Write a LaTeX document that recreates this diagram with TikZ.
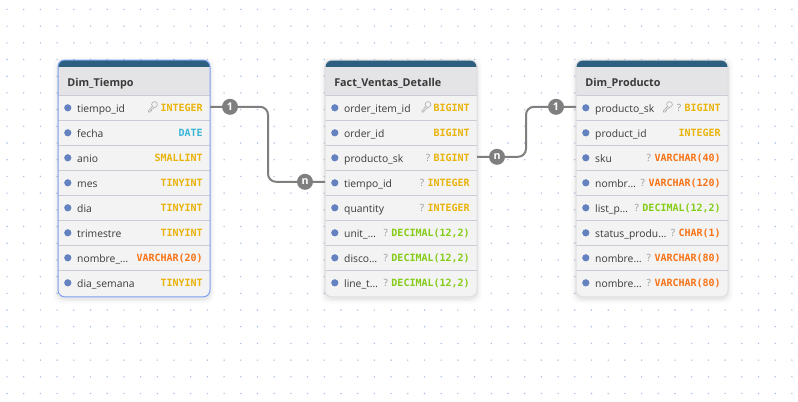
\documentclass[tikz,border=0pt]{standalone}
\usepackage{fontspec}
\setmainfont{Open Sans}
\newfontfamily\typefont{DejaVu Sans Mono}
\definecolor{cyel}{HTML}{EAB308}
\definecolor{ccya}{HTML}{38B6D8}
\definecolor{cora}{HTML}{F97316}
\definecolor{cgrn}{HTML}{84CC16}
\definecolor{cbar}{HTML}{2D5F7F}
\definecolor{chead}{HTML}{E4E4E6}
\definecolor{crow}{HTML}{F3F3F3}
\definecolor{csep}{HTML}{CBCBD6}
\definecolor{cdot}{HTML}{6482C0}
\definecolor{cgrid}{HTML}{A9C2E2}
\definecolor{ctext}{HTML}{3A3A3A}
\definecolor{cline}{HTML}{7F7F7F}
\definecolor{cborder}{HTML}{DEDEE3}
\definecolor{cselect}{HTML}{7DA0F0}
\tikzset{
  rowbox/.style={anchor=north west,minimum width=114pt,minimum height=18.75pt,inner sep=0pt,outer sep=0pt},
  rowsep/.style={draw=csep,line width=.75pt},
  rowdot/.style={fill=cdot,draw=none},
  collabel/.style={anchor=base west,inner sep=0pt,text=ctext,font=\fontsize{7.75}{10}\selectfont},
  coltype/.style={anchor=base east,inner sep=0pt,font=\typefont\bfseries\fontsize{7.5}{9}\selectfont},
  nullmark/.style={anchor=base east,inner sep=0pt,text=black!40,font=\fontsize{7.5}{9}\selectfont},
  tabletitle/.style={anchor=base west,inner sep=0pt,text=ctext,font=\bfseries\fontsize{8.1}{10}\selectfont},
  conn/.style={draw=cline,line width=1.5pt,rounded corners=6pt},
  badge/.style={circle,fill=cline,text=white,minimum size=12pt,inner sep=0pt,font=\bfseries\fontsize{8}{9}\selectfont},
  keyline/.style={draw=black!30,line width=.5pt}
}
% card: #1 id, #2 left x, #3 border colour, #4 title
\newcommand{\ecard}[4]{
  \foreach \s/\o in {5/.012,3.5/.018,2/.025,1/.03}
    \fill[black,opacity=\o,rounded corners=6pt] (#2-\s,60-\s+2) rectangle (#2+152+\s,296.8+\s+2);
  \path[rounded corners=5pt,fill=crow] (#2,60) rectangle (#2+152,296.8);
  \begin{scope}
    \clip[rounded corners=5pt] (#2,60) rectangle (#2+152,296.8);
    \fill[chead] (#2,60) rectangle (#2+152,95.3);
    \fill[cbar] (#2,60) rectangle (#2+152,67.3);
  \end{scope}
  \node[tabletitle] (#1title) at (#2+9,86) {#4};
  \def\tx{#2}
  \def\tid{#1}
}
\newcommand{\eclose}[2]{
  \draw[#2,line width=.75pt,rounded corners=5pt] (#1,60) rectangle (#1+152,296.8);
}
% row: #1 row number (0-based), #2 label, #3 type, #4 colour
\newcommand{\erow}[4]{
  \node[rowbox] (\tid#1) at (\tx,95.3+25*#1) {};
  \draw[rowsep] (\tid#1.north west) -- (\tid#1.north east);
  \fill[rowdot] ([shift={(9.8,0)}]\tid#1.west) circle (3.6);
  \node[collabel] (\tid#1l) at ([shift={(18.9,4.8)}]\tid#1.west) {#2};
  \node[coltype,text=#4] (\tid#1t) at ([shift={(145,3.2)}]\tid#1.west) {#3};
}
\newcommand{\qm}[1]{
  \node[nullmark] (\tid#1q) at ([shift={(-3,0)}]\tid#1t.base west) {?};
}
% key icon to the left of a given point
\newcommand{\keyicon}[1]{
  \begin{scope}[shift={(#1)}]
    \draw[keyline] (-3,-3) circle (2.9);
    \draw[keyline] (-5.1,-1) -- (-9,3) -- (-9,4.5) -- (-7.3,4.5) -- (-7.3,3.3) -- (-6,3.3) -- (-6,1.8) -- (-3.3,0.4);
  \end{scope}
}
\begin{document}
\begin{tikzpicture}[x=.75pt,y=-.75pt]
\useasboundingbox (0,0) rectangle (798,401);
\fill[white] (0,0) rectangle (798,401);
\foreach \i in {0,...,47} \foreach \j in {0,...,23}
  \fill[cgrid] (7+16.7*\i,9.4+16.7*\j) circle (.8);

% Dim_Tiempo
\ecard{a}{58}{cselect}{Dim\_Tiempo}
\erow{0}{tiempo\_id}{INTEGER}{cyel}
\erow{1}{fecha}{DATE}{ccya}
\erow{2}{anio}{SMALLINT}{cyel}
\erow{3}{mes}{TINYINT}{cyel}
\erow{4}{dia}{TINYINT}{cyel}
\erow{5}{trimestre}{TINYINT}{cyel}
\erow{6}{nombre\_…}{VARCHAR(20)}{cora}
\erow{7}{dia\_semana}{TINYINT}{cyel}
\keyicon{157.5,107.5}
\eclose{58}{cselect}

% Fact_Ventas_Detalle
\ecard{b}{325}{cborder}{Fact\_Ventas\_Detalle}
\erow{0}{order\_item\_id}{BIGINT}{cyel}
\erow{1}{order\_id}{BIGINT}{cyel}
\erow{2}{producto\_sk}{BIGINT}{cyel}\qm{2}
\erow{3}{tiempo\_id}{INTEGER}{cyel}\qm{3}
\erow{4}{quantity}{INTEGER}{cyel}\qm{4}
\erow{5}{unit\_…}{DECIMAL(12,2)}{cgrn}\qm{5}
\erow{6}{disco…}{DECIMAL(12,2)}{cgrn}\qm{6}
\erow{7}{line\_t…}{DECIMAL(12,2)}{cgrn}\qm{7}
\keyicon{431,107.5}
\eclose{325}{cborder}

% Dim_Producto
\ecard{c}{576}{cborder}{Dim\_Producto}
\erow{0}{producto\_sk}{BIGINT}{cyel}\qm{0}
\erow{1}{product\_id}{INTEGER}{cyel}
\erow{2}{sku}{VARCHAR(40)}{cora}\qm{2}
\erow{3}{nombr…}{VARCHAR(120)}{cora}\qm{3}
\erow{4}{list\_p…}{DECIMAL(12,2)}{cgrn}\qm{4}
\erow{5}{status\_produ…}{CHAR(1)}{cora}\qm{5}
\erow{6}{nombre…}{VARCHAR(80)}{cora}\qm{6}
\erow{7}{nombre…}{VARCHAR(80)}{cora}\qm{7}
\keyicon{672.5,107.5}
\eclose{576}{cborder}

% connectors
\coordinate (m1) at (268,145);
\coordinate (m2) at (526,132);
\draw[conn] ([yshift=.75pt]a0.east) -| (m1) |- ([yshift=.75pt]b3.west);
\draw[conn] ([yshift=.75pt]b2.east) -| (m2) |- ([yshift=.75pt]c0.west);
\node[badge] (r1) at (230,106.8) {1};
\node[badge] (r2) at (305,181.8) {n};
\node[badge] (r3) at (497,156.8) {n};
\node[badge] (r4) at (556,106.8) {1};
\end{tikzpicture}
\end{document}
